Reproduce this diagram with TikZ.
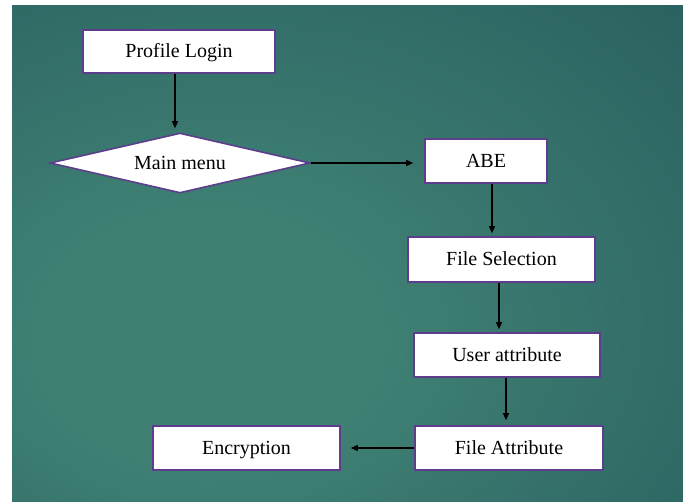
\documentclass[tikz,border=0pt]{standalone}
\usepackage{fontspec}
\setmainfont{Liberation Serif}
\usetikzlibrary{shapes.geometric,arrows.meta}
\definecolor{bginner}{RGB}{64,129,116}
\definecolor{bgouter}{RGB}{30,80,86}
\definecolor{boxline}{RGB}{92,62,140}
\pgfdeclareradialshading{bgshade}{\pgfpoint{-12bp}{-10bp}}{color(0bp)=(bginner); color(12bp)=(bginner); color(62bp)=(bgouter); color(100bp)=(bgouter)}
\tikzset{
  stepbox/.style={draw=boxline, line width=1.6pt, fill=white, inner sep=0pt, text height=12pt, text depth=0pt, font=\fontsize{20pt}{24pt}\selectfont},
  decide/.style={diamond, draw=boxline, line width=1.6pt, fill=white, inner sep=0pt, aspect=4.33, minimum width=260pt, minimum height=60pt, text height=12pt, text depth=0pt, font=\fontsize{20pt}{24pt}\selectfont},
  arr/.style={-{Triangle[length=7pt,width=6pt]}, line width=1.2pt, black},
}
\begin{document}
\begin{tikzpicture}[x=1pt,y=-1pt]
\useasboundingbox (0,0) rectangle (683,501);
\fill[white] (0,0) rectangle (683,501);
\shade[shading=bgshade] (12,5) rectangle (683,501);
\node[stepbox, minimum width=192pt, minimum height=43pt] (pl) at (179,51.5) {Profile Login};
\node[decide] (dia) at (180,163) {Main menu};
\node[stepbox, minimum width=122pt, minimum height=44pt] (abe) at (486,161) {ABE};
\node[stepbox, minimum width=187pt, minimum height=45pt] (fs) at (501.5,259.5) {File Selection};
\node[stepbox, minimum width=186pt, minimum height=44pt] (ua) at (507,355) {User attribute};
\node[stepbox, minimum width=188pt, minimum height=44pt] (fa) at (509,448) {File Attribute};
\node[stepbox, minimum width=187pt, minimum height=44pt] (enc) at (246.5,448) {Encryption};
\draw[arr, shorten >=4pt] ([xshift=-4pt]pl.south) -- ([xshift=-4pt]pl.south |- dia.north);
\draw[arr, shorten >=11pt] (dia.east) -- (dia.east -| abe.west);
\draw[arr, shorten >=3pt] ([xshift=6pt]abe.south) -- ([xshift=6pt]abe.south |- fs.north);
\draw[arr, shorten >=3pt] ([xshift=-2.5pt]fs.south) -- ([xshift=-2.5pt]fs.south |- ua.north);
\draw[arr, shorten >=5pt] ([xshift=-1pt]ua.south) -- ([xshift=-1pt]ua.south |- fa.north);
\draw[arr, shorten >=10pt] (fa.west) -- (enc.east);
\end{tikzpicture}
\end{document}
